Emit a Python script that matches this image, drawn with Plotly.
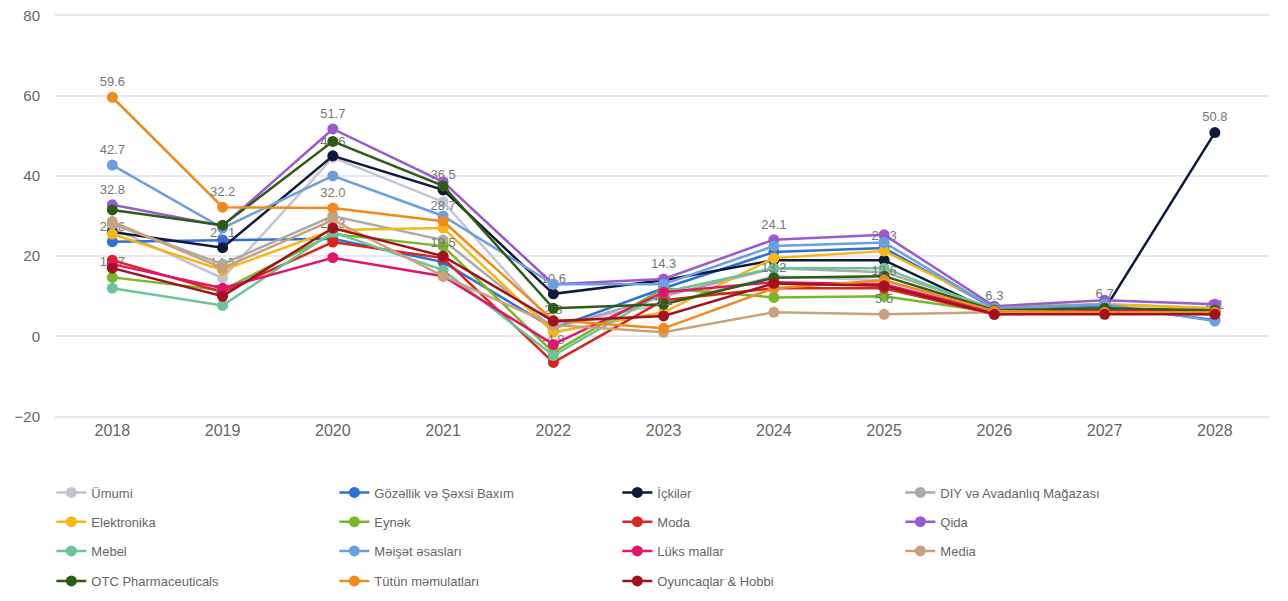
import plotly.graph_objects as go

years = [2018, 2019, 2020, 2021, 2022, 2023, 2024, 2025, 2026, 2027, 2028]

umumi = [27.0, 14.5, 44.6, 33.5, 3.0, 8.0, 15.0, 14.0, 6.5, 7.0, 6.0]
gozellik = [23.6, 24.0, 24.3, 18.5, 2.0, 12.0, 21.0, 22.0, 7.0, 7.5, 4.1]
ickiler = [26.0, 22.1, 45.0, 36.5, 10.6, 14.0, 19.0, 19.0, 6.0, 6.7, 50.8]
diy = [28.0, 18.0, 30.0, 24.0, 2.0, 10.0, 17.0, 16.0, 7.0, 8.0, 7.0]
elektronika = [25.5, 16.5, 26.5, 27.0, 1.0, 6.0, 19.5, 21.3, 7.5, 8.0, 7.0]
eynek = [14.7, 11.5, 25.5, 22.5, -4.0, 12.0, 9.7, 10.0, 6.0, 6.5, 6.0]
moda = [19.0, 11.0, 23.5, 19.5, -6.5, 9.0, 12.0, 12.0, 5.5, 6.0, 5.5]
qida = [32.8, 27.5, 51.7, 38.5, 13.0, 14.3, 24.1, 25.3, 7.5, 9.0, 8.0]
mebel = [12.0, 7.7, 26.0, 16.5, -4.8, 11.0, 17.0, 17.0, 6.5, 7.0, 6.0]
meiset = [42.7, 27.0, 40.0, 30.0, 13.0, 13.0, 22.5, 23.4, 7.0, 8.0, 3.8]
luks = [18.0, 12.0, 19.6, 15.0, -2.0, 11.0, 13.5, 13.0, 6.0, 6.5, 6.0]
media = [28.6, 17.0, 29.0, 15.0, 2.8, 1.0, 6.0, 5.5, 6.0, 6.0, 6.0]
otc = [31.5, 27.7, 48.6, 37.5, 7.0, 8.0, 14.6, 15.0, 6.5, 7.0, 6.5]
tutun = [59.6, 32.2, 32.0, 28.7, 4.0, 2.0, 12.0, 14.0, 6.3, 6.0, 6.0]
oyuncaq = [17.0, 10.0, 27.0, 20.0, 3.8, 5.1, 13.2, 12.6, 5.5, 5.5, 5.5]

# legend order, row by row (4 per row)
series = [
    ("Ümumi", umumi, "#c3c3d3"),
    ("Gözəllik və Şəxsi Baxım", gozellik, "#2f6fd8"),
    ("İçkilər", ickiler, "#0d1a38"),
    ("DIY və Avadanlıq Mağazası", diy, "#aaaaaa"),
    ("Elektronika", elektronika, "#f5b617"),
    ("Eynək", eynek, "#76b82a"),
    ("Moda", moda, "#d9261c"),
    ("Qida", qida, "#9b59d0"),
    ("Mebel", mebel, "#6cc497"),
    ("Məişət əsasları", meiset, "#6a9fe0"),
    ("Lüks mallar", luks, "#e2156b"),
    ("Media", media, "#c9a27c"),
    ("OTC Pharmaceuticals", otc, "#2e5b16"),
    ("Tütün məmulatları", tutun, "#f08a1c"),
    ("Oyuncaqlar & Hobbi", oyuncaq, "#a3111f"),
]

# which points carry a value label
labelled = {
    "Tütün məmulatları": [0, 1, 2, 3, 8],
    "Məişət əsasları": [0],
    "Qida": [0, 2, 5, 6],
    "Gözəllik və Şəxsi Baxım": [0, 2, 10],
    "Eynək": [0],
    "İçkilər": [1, 3, 4, 9, 10],
    "Ümumi": [1, 2],
    "Mebel": [1, 4],
    "Moda": [3],
    "Media": [4, 7],
    "Oyuncaqlar & Hobbi": [5, 6, 7],
    "Elektronika": [7],
}

fig = go.Figure()
for i, (name, vals, col) in enumerate(series):
    idx = labelled.get(name, [])
    txt = [f"{v:.1f}" if j in idx else "" for j, v in enumerate(vals)]
    leg = "legend" if i < 4 else f"legend{i // 4 + 1}"
    fig.add_trace(go.Scatter(
        x=list(range(len(years))), y=vals, name=name,
        mode="lines+markers+text", text=txt, textposition="top center",
        textfont=dict(size=13, color="#777"),
        line=dict(color=col, width=2.5),
        marker=dict(color=col, size=11),
        legend=leg,
    ))

legend_rows = [-0.181, -0.253, -0.325, -0.399]
leg_common = dict(orientation="h", x=-0.003, xanchor="left", yanchor="middle",
                  entrywidth=238, entrywidthmode="pixels",
                  font=dict(family="Liberation Sans, Arial", size=13, color="#666"),
                  bgcolor="rgba(0,0,0,0)")

fig.update_layout(
    width=1288, height=601,
    margin=dict(l=47, r=26, t=5, b=190, autoexpand=False),
    plot_bgcolor="white", paper_bgcolor="white",
    font=dict(family="Liberation Sans, Arial", color="#666"),
    showlegend=True,
    legend=dict(leg_common, y=legend_rows[0]),
    legend2=dict(leg_common, y=legend_rows[1]),
    legend3=dict(leg_common, y=legend_rows[2]),
    legend4=dict(leg_common, y=legend_rows[3]),
    xaxis=dict(
        tickvals=list(range(len(years))), ticktext=[str(y) for y in years],
        range=[-0.52, 10.5], showgrid=False, zeroline=False, showline=False,
        tickfont=dict(size=16, color="#666"), ticks="",
    ),
    yaxis=dict(
        range=[-20.6, 80.6], tickvals=[-20, 0, 20, 40, 60, 80],
        showgrid=True, gridcolor="#e8e8ee", gridwidth=2, zeroline=False,
        tickfont=dict(size=15, color="#666"), ticks="", ticklabelstandoff=14,
        ticklabeloverflow="allow",
    ),
)

fig.write_html("out.html")
